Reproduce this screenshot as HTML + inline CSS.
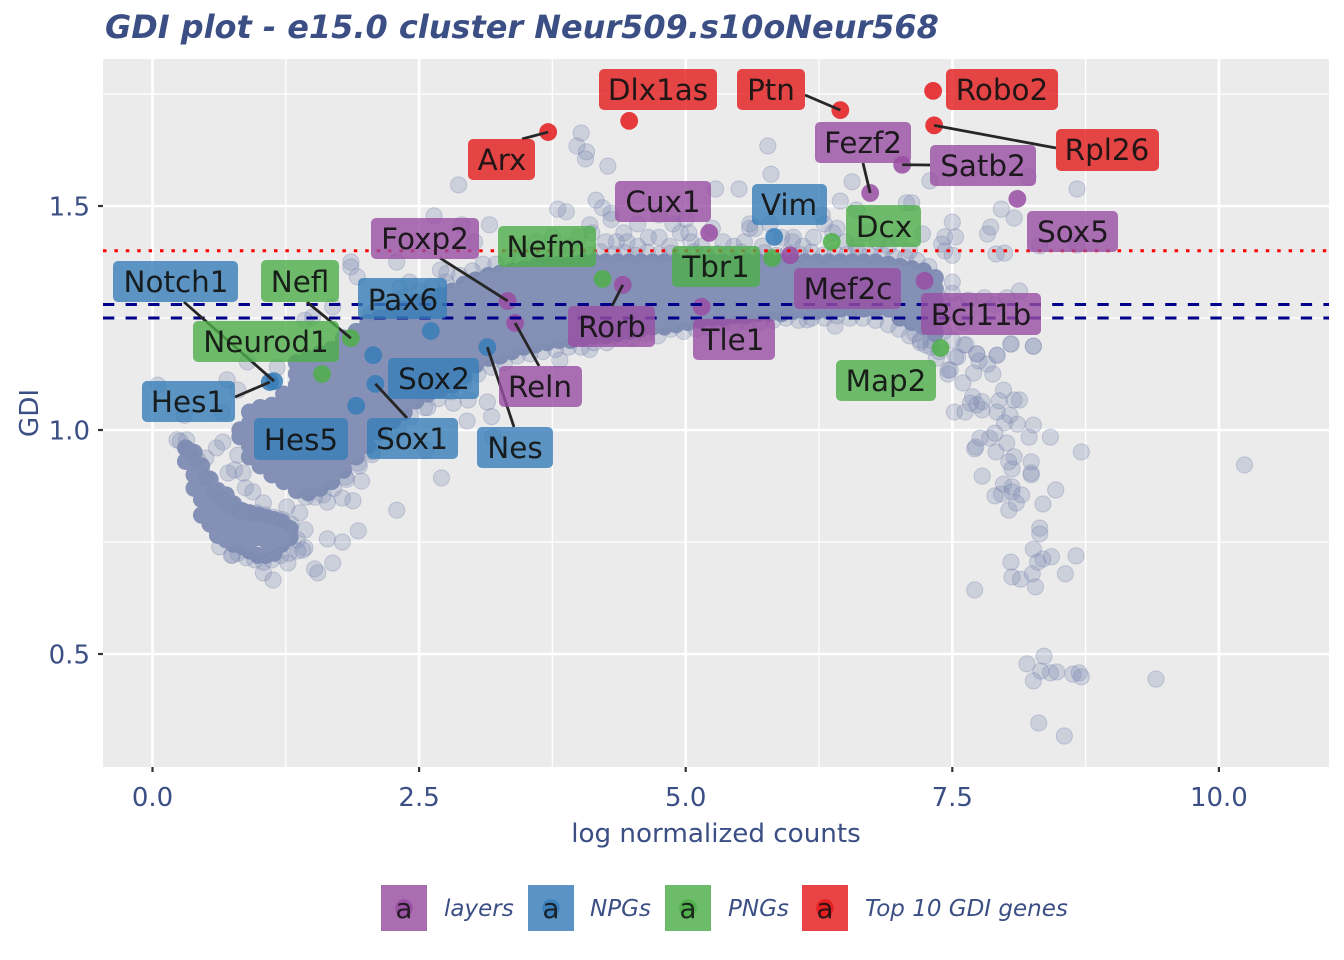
<!DOCTYPE html>
<html lang="en">
<head>
<meta charset="utf-8">
<title>GDI plot</title>
<style>
html,body{margin:0;padding:0;background:#fff;}
svg{display:block;font-family:"DejaVu Sans","Liberation Sans",sans-serif;}
.lb rect{fill-opacity:.8;}
.lb text{font-size:29.4px;fill:#111;fill-opacity:.92;text-anchor:middle;}
.purple rect{fill:#984EA3;}
.blue rect{fill:#377EB8;}
.green rect{fill:#4DAF4A;}
.red rect{fill:#E41A1C;}
</style>
</head>
<body>
<svg id="chart" width="1344" height="960" viewBox="0 0 1344 960" xmlns="http://www.w3.org/2000/svg">
  <rect x="0" y="0" width="1344" height="960" fill="#fff"/>
  <text x="105" y="38" font-size="31.95" font-weight="bold" font-style="italic" fill="#3B4F85">GDI plot - e15.0 cluster Neur509.s10oNeur568</text>
  <rect x="103" y="59" width="1226" height="708" fill="#EBEBEB"/>
  <g id="grid"></g>
  <g id="sparse"></g>
  <g id="core"></g>
  <g id="edge"></g>
  <g id="highlights"></g>
  <g id="thresholds"></g>
  <g id="connectors"></g>

  <g>
    <g class="lb red"><rect x="599" y="69" width="118" height="41" rx="5"/><text x="658" y="100">Dlx1as</text></g>
    <g class="lb red"><rect x="737" y="69" width="68" height="41" rx="5"/><text x="771" y="100">Ptn</text></g>
    <g class="lb red"><rect x="946" y="69" width="112" height="41" rx="5"/><text x="1002" y="100">Robo2</text></g>
    <g class="lb red"><rect x="1056" y="129" width="103" height="42" rx="5"/><text x="1107" y="160">Rpl26</text></g>
    <g class="lb red"><rect x="468" y="139" width="67" height="41" rx="5"/><text x="502" y="170">Arx</text></g>
    <g class="lb purple"><rect x="815" y="122" width="96" height="41" rx="5"/><text x="863" y="153">Fezf2</text></g>
    <g class="lb purple"><rect x="930" y="145" width="106" height="41" rx="5"/><text x="983" y="176">Satb2</text></g>
    <g class="lb purple"><rect x="615" y="181" width="96" height="41" rx="5"/><text x="663" y="212">Cux1</text></g>
    <g class="lb blue"><rect x="752" y="184" width="75" height="41" rx="5"/><text x="789" y="215">Vim</text></g>
    <g class="lb green"><rect x="846" y="205" width="75" height="42" rx="5"/><text x="884" y="237">Dcx</text></g>
    <g class="lb purple"><rect x="1027" y="211" width="91" height="41" rx="5"/><text x="1073" y="242">Sox5</text></g>
    <g class="lb purple"><rect x="371" y="218" width="108" height="41" rx="5"/><text x="425" y="249">Foxp2</text></g>
    <g class="lb green"><rect x="498" y="226" width="98" height="41" rx="5"/><text x="546" y="257">Nefm</text></g>
    <g class="lb green"><rect x="672" y="246" width="88" height="41" rx="5"/><text x="716" y="277">Tbr1</text></g>
    <g class="lb purple"><rect x="794" y="268" width="107" height="41" rx="5"/><text x="848" y="299">Mef2c</text></g>
    <g class="lb purple"><rect x="921" y="293" width="120" height="42" rx="5"/><text x="981" y="325">Bcl11b</text></g>
    <g class="lb purple"><rect x="568" y="306" width="87" height="41" rx="5"/><text x="612" y="337">Rorb</text></g>
    <g class="lb purple"><rect x="693" y="319" width="82" height="41" rx="5"/><text x="733" y="350">Tle1</text></g>
    <g class="lb green"><rect x="836" y="360" width="100" height="41" rx="5"/><text x="886" y="391">Map2</text></g>
    <g class="lb blue"><rect x="113" y="261" width="125" height="41" rx="5"/><text x="176" y="292">Notch1</text></g>
    <g class="lb green"><rect x="261" y="260" width="78" height="42" rx="5"/><text x="300" y="292">Nefl</text></g>
    <g class="lb blue"><rect x="358" y="278" width="89" height="41" rx="5"/><text x="403" y="310">Pax6</text></g>
    <g class="lb green"><rect x="193" y="321" width="146" height="41" rx="5"/><text x="266" y="352">Neurod1</text></g>
    <g class="lb blue"><rect x="388" y="358" width="91" height="41" rx="5"/><text x="434" y="389">Sox2</text></g>
    <g class="lb blue"><rect x="142" y="381" width="93" height="41" rx="5"/><text x="188" y="412">Hes1</text></g>
    <g class="lb blue"><rect x="254" y="418" width="94" height="42" rx="5"/><text x="301" y="450">Hes5</text></g>
    <g class="lb blue"><rect x="367" y="418" width="91" height="41" rx="5"/><text x="412" y="449">Sox1</text></g>
    <g class="lb blue"><rect x="477" y="427" width="76" height="41" rx="5"/><text x="515" y="458">Nes</text></g>
    <g class="lb purple"><rect x="499" y="366" width="83" height="41" rx="5"/><text x="540" y="397">Reln</text></g>
  </g>

  <g id="axes"></g>
  <text transform="translate(38,413) rotate(-90)" text-anchor="middle" font-size="26.2" fill="#3B4F85">GDI</text>
  <text x="716" y="842" text-anchor="middle" font-size="26.2" fill="#3B4F85">log normalized counts</text>

  <g>
    <g>
      <rect x="381" y="885" width="46" height="46" fill="#AA6DB0"/><circle cx="404" cy="908" r="8.8" fill="#984EA3" fill-opacity=".85"/><text x="404" y="918" text-anchor="middle" font-size="28" fill="#111" fill-opacity=".85">a</text>
      <text x="444" y="916" font-size="23" font-style="italic" fill="#3B4F85">layers</text>
    </g>
    <g>
      <rect x="528" y="885" width="46" height="46" fill="#5B94C4"/><circle cx="551" cy="908" r="8.8" fill="#377EB8" fill-opacity=".85"/><text x="551" y="918" text-anchor="middle" font-size="28" fill="#111" fill-opacity=".85">a</text>
      <text x="590" y="916" font-size="23" font-style="italic" fill="#3B4F85">NPGs</text>
    </g>
    <g>
      <rect x="665" y="885" width="46" height="46" fill="#6CBC69"/><circle cx="688" cy="908" r="8.8" fill="#4DAF4A" fill-opacity=".85"/><text x="688" y="918" text-anchor="middle" font-size="28" fill="#111" fill-opacity=".85">a</text>
      <text x="728" y="916" font-size="23" font-style="italic" fill="#3B4F85">PNGs</text>
    </g>
    <g>
      <rect x="802" y="885" width="46" height="46" fill="#E94345"/><circle cx="825" cy="908" r="8.8" fill="#E41A1C" fill-opacity=".85"/><text x="825" y="918" text-anchor="middle" font-size="28" fill="#111" fill-opacity=".85">a</text>
      <text x="865" y="916" font-size="23" font-style="italic" fill="#3B4F85">Top 10 GDI genes</text>
    </g>
  </g>
</svg>

<script>
// Axis tick data
const xTicks = [0, 2.5, 5, 7.5, 10];
const xTickLabels = ["0.0", "2.5", "5.0", "7.5", "10.0"];
const xMinor = [1.25, 3.75, 6.25, 8.75];
const yTicks = [0.5, 1.0, 1.5];
const yTickLabels = ["0.5", "1.0", "1.5"];
const yMinor = [0.75, 1.25, 1.75];

// Threshold values
const dashedThresholds = [1.28, 1.25];
const dottedThresholds = [1.4];

// Individually readable genes: counts (x) and GDI (y)
const tailX = [8.05,8.26,7.92,7.73,7.61,7.75,7.83,7.53,7.48,7.46,7.70,7.88,7.60,7.98,7.69,7.94,8.08,8.13,7.67,7.73,7.78,7.52,7.62,7.78,7.92,8.04,7.99,8.11,8.26,7.90,7.85,7.76,8.22,8.42,8.01,7.72,7.71,7.91,8.71,8.08,8.03,8.24,8.06,8.24,8.24,7.78,7.98,8.06,8.47,7.90,7.96,8.06,8.15,8.10,8.35,8.03,8.32,8.32,8.26,8.43,8.66,8.35,8.30,8.05,8.56,8.25,8.06,8.14,8.28,7.71,8.36,8.20,8.33,8.42,8.48,8.63,8.69,8.71,8.26,9.41,8.31,8.55,10.24];
const tailY = [1.192,1.187,1.167,1.17,1.19,1.154,1.147,1.163,1.134,1.125,1.127,1.125,1.105,1.089,1.074,1.065,1.067,1.067,1.06,1.056,1.063,1.04,1.04,1.045,1.04,1.033,1.016,1.013,1.011,0.993,0.982,0.982,0.984,0.984,0.971,0.962,0.958,0.951,0.951,0.94,0.929,0.929,0.913,0.904,0.9,0.897,0.879,0.873,0.866,0.853,0.857,0.862,0.855,0.837,0.835,0.821,0.781,0.768,0.734,0.717,0.719,0.712,0.705,0.705,0.679,0.679,0.672,0.667,0.65,0.643,0.495,0.478,0.462,0.458,0.46,0.455,0.458,0.449,0.44,0.444,0.346,0.317,0.922];

const upperX = [4.02,3.98,4.07,4.06,4.27,2.87,3.80,3.88,4.16,4.22,4.30,4.10,5.28,5.50,5.77,5.80,6.56,6.45,6.60,7.07,7.12,7.29,8.21,8.67,8.08,7.96,7.83,7.86,7.91,7.99,7.50,7.53,7.43,7.40,7.22,8.67,8.32,2.64,2.90,3.16,3.02,1.86,1.86,1.92,2.29,3.45,3.60,3.75,3.90,4.00,4.12,4.25,4.35,4.45,4.55,4.65,4.75,4.85,4.95,5.05,5.15,5.25,5.35,5.45,5.55,5.65,5.72,5.90,6.00,6.10,6.20,6.30,6.42,6.50,6.60,6.70,6.80,6.90,7.00,7.10,4.30,4.55,4.75,5.00,5.60,4.42,4.88,5.03,5.60,5.79,6.28,6.38,6.01,7.50,7.43];
const upperY = [1.663,1.634,1.621,1.605,1.589,1.547,1.493,1.487,1.513,1.496,1.484,1.458,1.538,1.538,1.634,1.571,1.554,1.511,1.491,1.507,1.507,1.556,1.565,1.538,1.473,1.493,1.4375,1.453,1.393,1.395,1.464,1.431,1.431,1.415,1.4375,1.413,1.411,1.478,1.458,1.458,1.42,1.375,1.364,1.342,1.375,1.41,1.42,1.43,1.41,1.43,1.44,1.42,1.42,1.42,1.41,1.43,1.43,1.41,1.44,1.42,1.41,1.45,1.42,1.41,1.42,1.45,1.41,1.43,1.42,1.41,1.43,1.46,1.45,1.42,1.41,1.44,1.42,1.41,1.43,1.40,1.47,1.46,1.48,1.47,1.45,1.44,1.46,1.44,1.46,1.46,1.48,1.44,1.43,1.39,1.40];

const rightEdgeX = [7.50,7.50,8.13,8.01,7.63,7.73,7.92,8.05,8.26,7.46,7.55,6.40,6.14,7.40,7.35,7.30,7.45,7.55,7.65,7.80,7.90,7.60,7.42,7.50,7.25,7.20,7.15,7.35];
const rightEdgeY = [1.33,1.305,1.31,1.295,1.19,1.17,1.167,1.192,1.187,1.134,1.163,1.232,1.246,1.29,1.25,1.20,1.26,1.28,1.29,1.295,1.28,1.24,1.22,1.20,1.19,1.20,1.215,1.16];

const lowerLeftX = [0.05,0.70,0.80,0.30,0.65,0.23,0.32,0.66,0.60,0.50,0.80,0.77,0.71,0.85,0.87,0.94,1.04,1.26,1.38,1.64,1.78,1.88,1.81,1.96,1.93,1.93,1.64,1.78,1.43,1.43,1.41,1.69,1.52,1.55,1.27,1.13,1.04,0.75,0.63,2.56,2.06,0.89,1.17,1.69,1.50,1.43,2.41,2.32,2.70,2.76,2.71,2.29,2.58,2.82,2.96,3.14,3.18,2.95,3.19,3.82,4.10];
const lowerLeftY = [1.10,1.112,1.089,1.033,1.04,0.978,0.978,0.973,0.96,0.9375,0.944,0.911,0.904,0.904,0.871,0.862,0.837,0.828,0.815,0.839,0.848,0.842,0.895,0.886,0.926,0.775,0.757,0.75,0.777,0.737,0.732,0.703,0.69,0.681,0.703,0.665,0.681,0.721,0.739,0.955,0.951,1.152,1.14,1.275,1.252,1.245,1.33,1.317,1.357,1.35,0.893,0.821,1.05,1.06,1.067,1.0625,1.03,1.02,0.984,1.156,1.18];

// Genes along the rim of the overplotted cloud
const rimX = [2.05,2.2,2.35,2.5,2.62,2.75,2.88,3.0,3.1,3.22,3.33,3.44,3.55,3.66,3.77,3.88,3.99,4.1,4.2,4.32,4.42,4.53,4.64,4.75,4.86,4.97,5.08,5.19,5.3,5.41,5.52,5.63,5.74,5.85,5.96,6.07,6.18,6.29,6.4,6.51,6.62,6.73,6.84,6.95,7.06,7.17,7.28,
  2.55,2.68,2.8,2.92,3.05,3.18,3.3,3.42,3.54,3.66,3.78,3.9,4.02,4.14,4.26,4.38,4.5,4.62,4.74,4.86,4.98,5.1,5.22,5.34,5.46,5.58,5.7,5.82,5.94,6.06,6.18,6.3,6.42,6.54,6.66,6.78,6.9,7.0,7.1,7.2,7.3,7.38,
  0.26,0.34,0.42,0.5,0.58,0.66,0.74,0.82,0.9,0.98,1.06,1.14,1.22,1.3,1.36,0.74,0.8,0.88,0.96,1.04,1.12,1.2,1.28,1.36,1.44,1.52,1.6,1.7,1.82,1.94,2.06,2.18,2.3,2.42];
const rimY = [1.26,1.28,1.295,1.31,1.32,1.33,1.345,1.355,1.37,1.37,1.385,1.38,1.39,1.385,1.395,1.39,1.395,1.39,1.398,1.392,1.396,1.39,1.397,1.392,1.395,1.39,1.398,1.392,1.394,1.39,1.397,1.392,1.396,1.39,1.395,1.392,1.397,1.39,1.394,1.392,1.396,1.39,1.392,1.386,1.385,1.378,1.365,
  1.05,1.07,1.085,1.105,1.125,1.14,1.15,1.165,1.17,1.175,1.18,1.185,1.185,1.195,1.195,1.205,1.205,1.215,1.21,1.225,1.22,1.225,1.23,1.235,1.235,1.24,1.24,1.245,1.25,1.245,1.25,1.25,1.255,1.25,1.25,1.245,1.235,1.225,1.21,1.195,1.185,1.175,
  0.975,0.955,0.935,0.895,0.86,0.845,0.83,0.82,0.815,0.815,0.81,0.805,0.80,0.79,0.755,0.72,0.725,0.715,0.71,0.705,0.71,0.72,0.725,0.73,0.85,0.85,0.855,0.87,0.89,0.92,0.945,0.975,1.0,1.03];

// Overplotted gene cloud, read as columns: counts (x) and GDI values stacked at it
const cloudX = [0.31,0.39,0.46,0.54,0.61,0.69,0.76,0.84,0.91,0.99,1.06,1.14,1.21,1.29,
  0.82,0.91,1.01,1.12,1.23,1.35,1.46,1.57,1.68,1.79,1.91,2.02,2.13,2.25,2.36,2.47,2.58,2.70,2.81,2.92,3.03,3.15,3.26,3.37,3.48,3.59,
  3.70,3.81,3.92,4.03,4.14,4.25,4.36,4.47,4.58,4.69,4.80,4.91,5.02,5.13,5.24,5.35,5.46,5.57,5.68,5.79,5.90,6.01,6.12,6.23,6.34,6.45,6.56,6.67,6.78,6.90,7.01,7.12,7.23,7.34];
const cloudY = [
 [.96,.93],[.95,.925,.90,.87],[.92,.895,.87,.845,.81],[.89,.865,.84,.815,.79],[.865,.84,.815,.79,.765],[.855,.83,.805,.78,.755],[.835,.81,.785,.76,.745],[.82,.795,.77,.74],[.815,.79,.765,.73],[.81,.785,.76,.72],[.805,.78,.755,.72],[.80,.775,.75,.725],[.795,.77,.745],[.78,.76],
 [1.0,.985],
 [1.04,1.015,.99,.965,.94],
 [1.05,1.025,1.0,.975,.95,.92],
 [1.055,1.03,1.005,.98,.955,.93,.90],
 [1.08,1.055,1.03,1.005,.98,.955,.93,.905,.885],
 [1.15,1.125,1.1,1.075,1.05,1.025,1.0,.975,.95,.925,.9,.88,.865],
 [1.16,1.135,1.11,1.085,1.06,1.035,1.01,.985,.96,.935,.91,.885,.86],
 [1.17,1.145,1.12,1.095,1.07,1.045,1.02,.995,.97,.945,.92,.895,.87],
 [1.18,1.155,1.13,1.105,1.08,1.055,1.03,1.005,.98,.955,.93,.905,.885],
 [1.205,1.18,1.155,1.13,1.105,1.08,1.055,1.03,1.005,.98,.955,.93,.91],
 [1.22,1.195,1.17,1.145,1.12,1.095,1.07,1.045,1.02,.995,.97,.94],
 [1.24,1.215,1.19,1.165,1.14,1.115,1.09,1.065,1.04,1.015,.99,.965],
 [1.25,1.225,1.2,1.175,1.15,1.125,1.1,1.075,1.05,1.025,.995],
 [1.26,1.235,1.21,1.185,1.16,1.135,1.11,1.085,1.06,1.035,1.02],
 [1.27,1.245,1.22,1.195,1.17,1.145,1.12,1.095,1.07,1.04],
 [1.285,1.26,1.235,1.21,1.185,1.16,1.135,1.11,1.085,1.065],
 [1.29,1.265,1.24,1.215,1.19,1.165,1.14,1.115,1.095,1.08],
 [1.30,1.275,1.25,1.225,1.2,1.175,1.15,1.125,1.105,1.09],
 [1.31,1.285,1.26,1.235,1.21,1.185,1.16,1.135,1.115,1.10],
 [1.325,1.3,1.275,1.25,1.225,1.2,1.175,1.15,1.12],
 [1.335,1.31,1.285,1.26,1.235,1.21,1.185,1.165,1.145],
 [1.345,1.32,1.295,1.27,1.245,1.22,1.195,1.175,1.16],
 [1.35,1.325,1.3,1.275,1.25,1.225,1.2,1.18,1.165],
 [1.355,1.33,1.305,1.28,1.255,1.23,1.205,1.175],
 [1.36,1.335,1.31,1.285,1.26,1.235,1.21,1.185],
 [1.365,1.34,1.315,1.29,1.265,1.24,1.215,1.19],
 [1.37,1.345,1.32,1.295,1.27,1.245,1.22,1.195],
 [1.37,1.345,1.32,1.295,1.27,1.245,1.22,1.2],
 [1.37,1.345,1.32,1.295,1.27,1.245,1.22,1.2],
 [1.375,1.35,1.325,1.3,1.275,1.25,1.225,1.205],
 [1.375,1.35,1.325,1.3,1.275,1.25,1.225,1.21],
 [1.375,1.35,1.325,1.3,1.275,1.25,1.225,1.21],
 [1.375,1.35,1.325,1.3,1.275,1.25,1.225,1.215],
 [1.375,1.35,1.325,1.3,1.275,1.25,1.22],
 [1.375,1.35,1.325,1.3,1.275,1.25,1.225],
 [1.375,1.35,1.325,1.3,1.275,1.25,1.23],
 [1.375,1.35,1.325,1.3,1.275,1.25,1.23],
 [1.375,1.35,1.325,1.3,1.275,1.25,1.235],
 [1.375,1.35,1.325,1.3,1.275,1.25,1.24],
 [1.375,1.35,1.325,1.3,1.275,1.245],
 [1.375,1.35,1.325,1.3,1.275,1.25],
 [1.375,1.35,1.325,1.3,1.275,1.25],
 [1.375,1.35,1.325,1.3,1.275,1.255],
 [1.375,1.35,1.325,1.3,1.275,1.255],
 [1.375,1.35,1.325,1.3,1.275,1.26],
 [1.375,1.35,1.325,1.3,1.275,1.26],
 [1.375,1.35,1.325,1.3,1.28,1.26],
 [1.375,1.35,1.325,1.3,1.28,1.265],
 [1.375,1.35,1.325,1.3,1.28,1.265],
 [1.375,1.35,1.325,1.3,1.28,1.265],
 [1.375,1.35,1.325,1.3,1.28,1.265],
 [1.375,1.35,1.325,1.3,1.28,1.27],
 [1.375,1.35,1.325,1.3,1.28,1.27],
 [1.375,1.35,1.325,1.3,1.28,1.27],
 [1.375,1.35,1.325,1.3,1.28,1.27],
 [1.37,1.345,1.32,1.295,1.27],
 [1.365,1.34,1.315,1.29,1.265,1.25],
 [1.36,1.335,1.31,1.285,1.26,1.24],
 [1.355,1.33,1.305,1.28,1.255,1.23],
 [1.34,1.315,1.29,1.265,1.24,1.215],
 [1.30,1.275,1.25,1.225,1.2]
];

// Highlighted gene sets
const layerNames = ["Fezf2","Satb2","Sox5","Cux1","Unlabelled","Mef2c","Tle1","Rorb","Foxp2","Reln"];
const layerX = [6.73,7.03,8.11,5.22,5.98,7.24,5.15,4.41,3.33,3.40];
const layerY = [1.529,1.592,1.516,1.44,1.39,1.333,1.275,1.324,1.288,1.239];

const npgNames = ["Vim","Nes","Pax6","Sox2","Sox1","Hes5","Hes1","Notch1"];
const npgX = [5.83,3.14,2.61,2.07,2.09,1.91,1.10,1.14];
const npgY = [1.431,1.185,1.221,1.167,1.103,1.054,1.107,1.109];

const pngNames = ["Nefl","Neurod1","Nefm","Tbr1","Dcx","Map2"];
const pngX = [1.86,1.59,4.22,5.81,6.37,7.39];
const pngY = [1.205,1.125,1.337,1.384,1.42,1.183];

const topNames = ["Arx","Dlx1as","Ptn","Robo2","Rpl26"];
const topX = [3.71,4.47,6.45,7.32,7.33];
const topY = [1.665,1.69,1.714,1.757,1.68];

const SVGNS = "http://www.w3.org/2000/svg";
const PANEL = {left:103, right:1329, top:59, bottom:767};
function xScale(v){ return 152.5 + v * 106.64; }
function yScale(v){ return 430 - (v - 1) * 448; }
function make(tag, attrs){
  const el = document.createElementNS(SVGNS, tag);
  for (const k in attrs) el.setAttribute(k, attrs[k]);
  return el;
}

// Grid
const gridG = document.getElementById('grid');
function gridLine(x1,y1,x2,y2,w){
  const l = make('line',{x1:x1,y1:y1,x2:x2,y2:y2,stroke:'#fff','stroke-width':w});
  
  
  gridG.appendChild(l);
}
xMinor.forEach(v => gridLine(xScale(v),PANEL.top,xScale(v),PANEL.bottom,1.3));
yMinor.forEach(v => gridLine(PANEL.left,yScale(v),PANEL.right,yScale(v),1.3));
xTicks.forEach(v => gridLine(xScale(v),PANEL.top,xScale(v),PANEL.bottom,2.6));
yTicks.forEach(v => gridLine(PANEL.left,yScale(v),PANEL.right,yScale(v),2.6));

// Sparse translucent points
const sparseG = document.getElementById('sparse');
function drawSparse(target, xs, ys){
  xs.forEach((x,i) => {
    const c = make('circle',{cx:xScale(x),cy:yScale(ys[i]),r:8.1,fill:'#7A88B0','fill-opacity':.27,stroke:'#7A88B0','stroke-opacity':.35,'stroke-width':1});
    
    
    target.appendChild(c);
  });
}
drawSparse(sparseG, tailX, tailY);
drawSparse(sparseG, upperX, upperY);
drawSparse(sparseG, rightEdgeX, rightEdgeY);
drawSparse(sparseG, lowerLeftX, lowerLeftY);

// Overplotted cloud
const coreG = document.getElementById('core');
cloudX.forEach((x,i) => {
  cloudY[i].forEach(y => {
    const c = make('circle',{cx:xScale(x),cy:yScale(y),r:8.6,fill:'#8490B5'});
    
    
    coreG.appendChild(c);
  });
});
drawSparse(document.getElementById('edge'), rimX, rimY);

// Highlighted points
const hlG = document.getElementById('highlights');
function drawHighlights(names, xs, ys, color){
  names.forEach((n,i) => {
    const c = make('circle',{cx:xScale(xs[i]),cy:yScale(ys[i]),r:8.9,fill:color,'fill-opacity':.85});
    
    
    hlG.appendChild(c);
  });
}
drawHighlights(layerNames, layerX, layerY, '#984EA3');
drawHighlights(npgNames, npgX, npgY, '#377EB8');
drawHighlights(pngNames, pngX, pngY, '#4DAF4A');
drawHighlights(topNames, topX, topY, '#E41A1C');

// Thresholds
const thG = document.getElementById('thresholds');
dottedThresholds.forEach(v => {
  const l = make('line',{x1:PANEL.left,x2:PANEL.right,y1:yScale(v),y2:yScale(v),stroke:'#FF0000','stroke-width':3,'stroke-dasharray':'3.5 7.9'});
  
  
  thG.appendChild(l);
});
dashedThresholds.forEach(v => {
  const l = make('line',{x1:PANEL.left,x2:PANEL.right,y1:yScale(v),y2:yScale(v),stroke:'#00008B','stroke-width':3,'stroke-dasharray':'11.3 11.3'});
  
  
  thG.appendChild(l);
});

// Connectors: label edge to the gene's point
const connG = document.getElementById('connectors');
function connector(name, lx, ly, names, xs, ys){
  const i = names.indexOf(name);
  const l = make('line',{x1:lx,y1:ly,x2:xScale(xs[i]),y2:yScale(ys[i]),stroke:'#262626','stroke-width':2.8});
  
  
  connG.appendChild(l);
}
connector('Arx',522,139,topNames,topX,topY);
connector('Ptn',805,95,topNames,topX,topY);
connector('Rpl26',1056,148,topNames,topX,topY);
connector('Fezf2',863,163,layerNames,layerX,layerY);
connector('Satb2',930,165,layerNames,layerX,layerY);
connector('Foxp2',440,258,layerNames,layerX,layerY);
connector('Rorb',612,306,layerNames,layerX,layerY);
connector('Reln',539,366,layerNames,layerX,layerY);
connector('Nes',514,427,npgNames,npgX,npgY);
connector('Sox1',407,418,npgNames,npgX,npgY);
connector('Hes1',235,397,npgNames,npgX,npgY);
connector('Notch1',184,302,npgNames,npgX,npgY);
connector('Nefl',307,302,pngNames,pngX,pngY);

// Axes ticks and labels
const axesG = document.getElementById('axes');
xTicks.forEach((v,i) => {
  const t = make('line',{x1:xScale(v),x2:xScale(v),y1:767,y2:772,stroke:'#333','stroke-width':2.2});
  
  
  axesG.appendChild(t);
  const s = make('text',{x:xScale(v),y:806,'text-anchor':'middle','font-size':26,fill:'#3B4F85'});
  
  
  s.textContent = xTickLabels[i];
  axesG.appendChild(s);
});
yTicks.forEach((v,i) => {
  const t = make('line',{x1:98,x2:103,y1:yScale(v),y2:yScale(v),stroke:'#333','stroke-width':2.2});
  
  
  axesG.appendChild(t);
  const s = make('text',{x:90,y:yScale(v)+9.5,'text-anchor':'end','font-size':26,fill:'#3B4F85'});
  
  
  s.textContent = yTickLabels[i];
  axesG.appendChild(s);
});
</script>
</body>
</html>
